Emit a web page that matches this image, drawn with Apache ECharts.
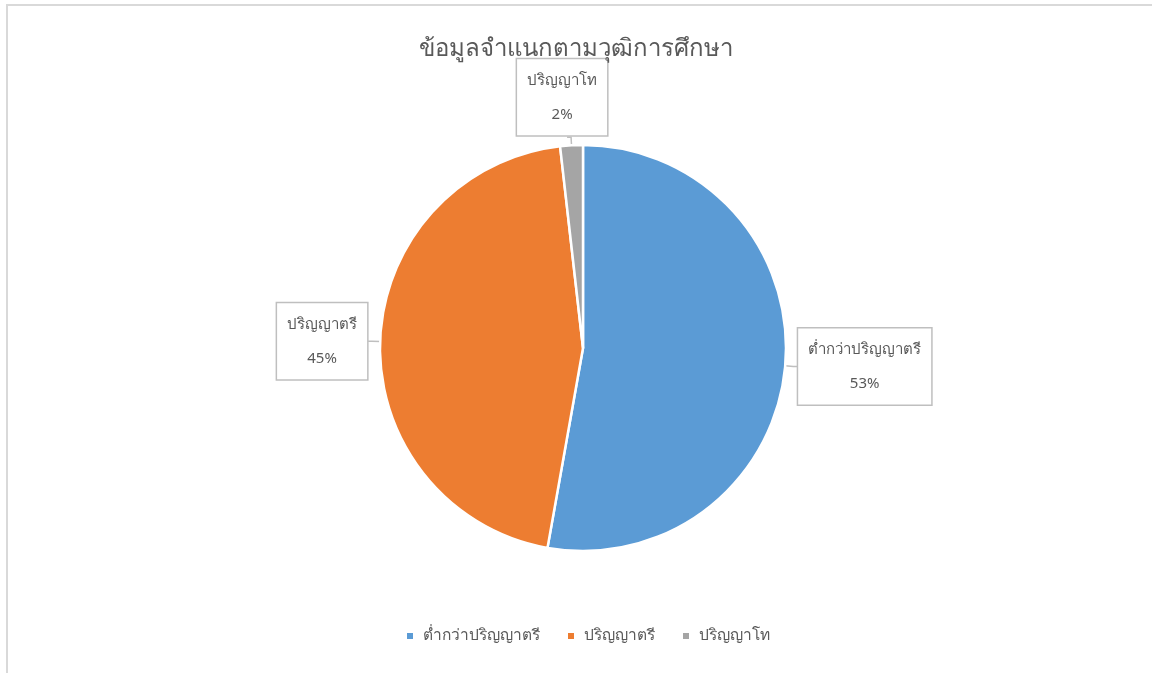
<!DOCTYPE html>
<html>
<head>
<meta charset="utf-8">
<script src="https://cdn.jsdelivr.net/npm/echarts@6/dist/echarts.min.js"></script>
<style>
html,body{margin:0;padding:0;background:#fff;}
#chart{position:absolute;left:0;top:0;width:1152px;height:673px;}
#frame{position:absolute;left:6px;top:4px;width:1200px;height:700px;border-left:2px solid #d9d9d9;border-top:2px solid #d9d9d9;pointer-events:none;}
</style>
</head>
<body>
<div id="chart"></div>
<div id="frame"></div>
<script>
const titleText = 'ข้อมูลจำแนกตามวุฒิการศึกษา';
const categories = ['ต่ำกว่าปริญญาตรี', 'ปริญญาตรี', 'ปริญญาโท'];
const values = [52.8, 45.4, 1.8];
const colors = ['#5b9bd5', '#ed7d31', '#a5a5a5'];
const labelOffsets = [[-4, 0], [4, 0], [45, -40]];

const font = '"Noto Sans", "DejaVu Sans", sans-serif';
const chart = echarts.init(document.getElementById('chart'));
chart.setOption({
  animation: false,
  color: colors,
  title: {
    text: titleText,
    left: 'center',
    top: 32,
    textStyle: {color: '#595959', fontSize: 24, fontWeight: 'normal', fontFamily: font}
  },
  legend: {
    bottom: 24,
    left: 400,
    icon: 'rect',
    itemWidth: 8,
    itemHeight: 8,
    itemGap: 26,
    textStyle: {color: '#595959', fontSize: 15.5, fontFamily: font, padding: [0, 0, 0, 4]},
    data: categories
  },
  series: [{
    type: 'pie',
    center: [583, 348],
    radius: 203,
    startAngle: 90,
    clockwise: true,
    percentPrecision: 0,
    itemStyle: {borderColor: '#fff', borderWidth: 2.5},
    label: {
      show: true,
      position: 'outside',
      formatter: '{c|{b}}\n{c|{d}%}',
      color: '#595959',
      fontSize: 15,
      fontFamily: font,
      lineHeight: 34,
      backgroundColor: '#fff',
      borderColor: '#bfbfbf',
      borderWidth: 1.5,
      padding: [4, 10, 4, 10],
      rich: {
        c: {align: 'center', color: '#595959', fontSize: 15, fontFamily: font, lineHeight: 34}
      }
    },
    labelLine: {show: true, length: 8, length2: 4, lineStyle: {color: '#bfbfbf', width: 1.5}},
    labelLayout: function (p) {
      const o = labelOffsets[p.dataIndex];
      return {dx: o[0], dy: o[1]};
    },
    data: categories.map((c, i) => ({name: c, value: values[i]}))
  }]
});
</script>
</body>
</html>
